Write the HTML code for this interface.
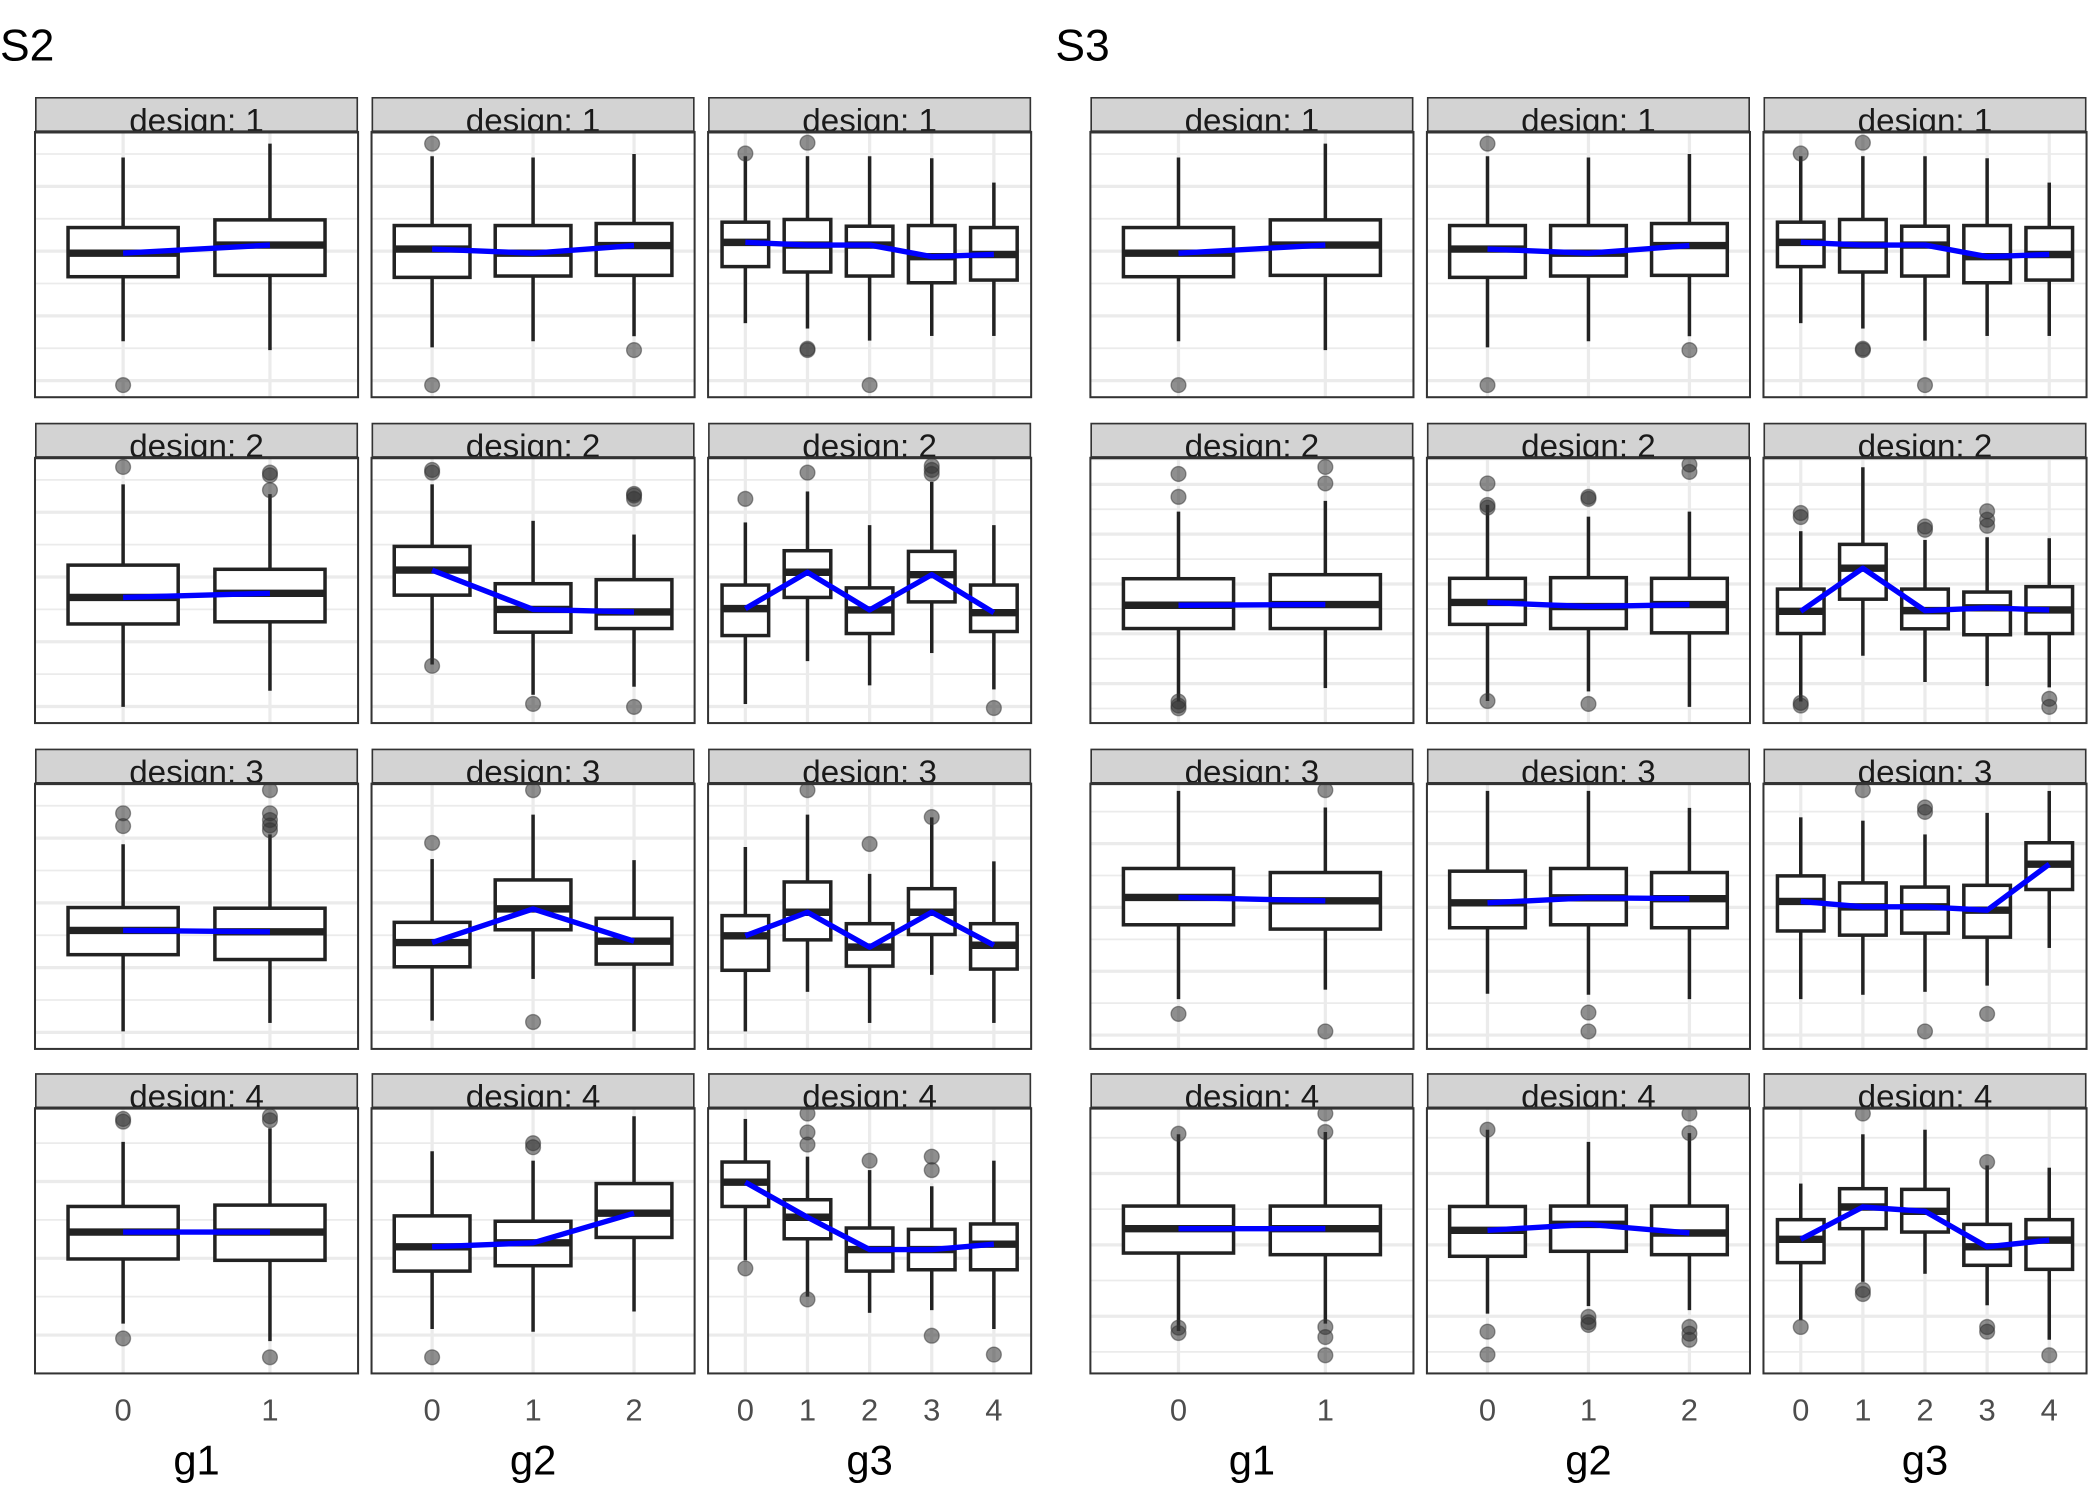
<!DOCTYPE html>
<html><head><meta charset="utf-8">
<style>html,body{margin:0;padding:0;background:#fff;}svg{display:block;}</style>
</head><body>
<svg id="s" xmlns="http://www.w3.org/2000/svg" width="2100" height="1500" viewBox="0 0 1560 1114" preserveAspectRatio="none" font-family="Liberation Sans, Arial, sans-serif">
<rect width="1560" height="1114" fill="#fff"/>
<text x="0" y="45" font-size="33" fill="#000">S2</text>
<text x="784" y="45" font-size="33" fill="#000">S3</text>
</svg>
<script>
var NS="http://www.w3.org/2000/svg",S=document.getElementById('s');
function el(t,a,p){var e=document.createElementNS(NS,t);for(var k in a)e.setAttribute(k,a[k]);(p||S).appendChild(e);return e;}
var colX=[26,276,526,810,1060,1310],W=240;
var stripT=[72,314,556,797],panT=[98,340,582,823],H=197;
var types=[2,3,5,2,3,5];
function xpos(c,i){var n=types[c];return colX[c]+(i+0.6)/(n+0.2)*W;}
function bw(c){var n=types[c];return 0.75/(n+0.2)*W;}
var grids={"0":[16.4,24.04],"1":[16.4,24.04],"2":[16.4,24.04],"3":[26,28.5]};
var grids3={"0":[16.4,24.04],"1":[1.2,18.5],"2":[20.8,23.7],"3":[22,26.5]};
var R1g1=[[169,205.5,188,117,253.4,[286]],[163.3,204.5,182,106.7,260,[]]];
var R1g2=[[167.5,206,185,116,258,[106.7,286]],[167.5,205,188,117,253.4,[]],[166,204.5,182.4,114.4,249.7,[260]]];
var R1g3=[[165,198,180,116,240,[114]],[163,202,182,116,244,[106,259,260]],[168,205,182,116,253,[286]],[167.5,210,190.6,117.5,249.5,[]],[169,208,189,135.6,249.5,[]]];
var D={
"0,0":R1g1,"0,1":R1g2,"0,2":R1g3,"0,3":R1g1,"0,4":R1g2,"0,5":R1g3,
"1,0":[[419.7,463.4,443.7,359.7,525,[346.8]],[422.8,461.8,440.6,367,513,[351,353,364]]],
"1,1":[[405.8,442,423.4,359.7,493.5,[349,351,494.5]],[433.5,469.5,452.6,386.8,516,[522.8]],[430.5,466.8,454.5,397,510,[366.8,368,370.5,525]]],
"1,2":[[434.5,472,452,388,522.8,[370.5]],[409,443.7,425,365,491,[351]],[436.6,470.5,453,390,509,[]],[409.5,447,426.8,358,485,[346,349,352]],[434.5,469,455,390,512,[525.8]]],
"1,3":[[429.8,466.8,449.5,380,521,[352,369,521,524,526]],[426.8,466.8,449,372,511,[346.8,359]]],
"1,4":[[429.5,463.7,447.4,375,520.6,[359,375,377,520.6]],[429,466.8,450.5,383.7,513.5,[369,370.5,522.8]],[429.5,470,449,380,525,[345,350.5]]],
"1,5":[[437.5,470.5,454,394.5,521,[381,384,522,524]],[404.3,445,422,347,487,[]],[437.5,467,453.5,401,506.5,[391,393.5]],[439.7,471.4,451.4,399,509.5,[379.7,386,390.5]],[435.7,470.5,453,399.7,510.5,[519,525]]],
"2,0":[[674,709,691,627,766,[604,613.5]],[674.5,712.6,692,619.7,759.7,[586.8,604,609,613,616.6]]],
"2,1":[[685,718,700,638,758,[626]],[653.5,690.5,675,605,727,[586.8,759]],[682,716,699,638.8,766,[]]],
"2,2":[[680,720.6,695,629,766,[]],[655,698,677.5,605,736.6,[586.8]],[686,717.5,703.4,649,759.7,[626.8]],[660,694,677.5,607,724,[606.8]],[686,719.7,702,639.7,759.7,[]]],
"2,3":[[645,686.8,666.5,587.4,742,[753]],[648,690,669,599.7,735,[586.8,766]]],
"2,4":[[647,689,670.5,587.4,738,[]],[645,686.8,666.8,587.4,738.8,[752,766]],[648,689,667.4,600,742,[]]],
"2,5":[[650.5,691.4,669.5,607,742,[]],[655.7,694.5,673.5,609.5,738.8,[586.8]],[658.8,693,673.5,619.7,736.6,[599.7,603,766]],[657.5,696,676,603.7,732,[753]],[625.9,660.6,641.8,587.4,704,[]]],
"3,0":[[896,935,915,848,983,[831,833,994]],[895,936,915,838,996,[829,832,1008]]],
"3,1":[[903,944,926,855,987,[1008]],[907,940,923,862,989,[849,852]],[879,919,901,829,974,[]]],
"3,2":[[863,896,878,831,936,[942]],[891,920,904,859,963,[827,841,850,965]],[912,944,928,869,975,[862]],[913,943,928,881,973,[859,869,992]],[909,943,924,862,987,[1006]]],
"3,3":[[895.7,930.6,912.5,842.4,988.5,[842,986,990]],[895.7,931.8,912.5,840.7,983,[827,840.7,985.5,993,1006.5]]],
"3,4":[[896,933,913.7,839,975.6,[839,989,1006]],[895.7,929.3,909.3,848,970,[978,982,984]],[895.7,931.8,915.7,841.5,973,[827,841.5,985.5,990.5,995]]],
"3,5":[[905.8,937.7,920.4,879,980.5,[985.5]],[882.8,912.5,896.4,842.4,952,[827,958,961]],[883.3,915,899.6,839,946,[]],[909.3,939.7,926,865.5,969.4,[863,985.5,989]],[905.8,942.7,921,867.2,995,[1006.5]]]
};
var labs=["g1","g2","g3","g1","g2","g3"];
for(var r=0;r<4;r++)for(var c=0;c<6;c++){
 var x0=colX[c],py=panT[r],n=types[c];
 var g=(c<3?grids:grids3)[r];
 for(var k=0;k<12;k++){var y=py+g[0]+k*g[1];if(y>py+H-1)break;
  el('line',{x1:x0,x2:x0+W,y1:y,y2:y,stroke:'#ebebeb','stroke-width':(k%2?2.4:1.3)});}
 for(var i=0;i<n;i++){var xx=xpos(c,i);el('line',{x1:xx,x2:xx,y1:py,y2:py+H,stroke:'#ebebeb','stroke-width':2.4});}
 var B=D[r+","+c],w=bw(c),pts=[];
 for(var i=0;i<n;i++){var b=B[i],xx=xpos(c,i);
  el('line',{x1:xx,x2:xx,y1:b[3],y2:b[0],stroke:'#222','stroke-width':2.6});
  el('line',{x1:xx,x2:xx,y1:b[1],y2:b[4],stroke:'#222','stroke-width':2.6});
  el('rect',{x:xx-w/2,y:b[0],width:w,height:b[1]-b[0],fill:'#fff',stroke:'#222','stroke-width':2.6});
  el('line',{x1:xx-w/2,x2:xx+w/2,y1:b[2],y2:b[2],stroke:'#222','stroke-width':5.5});
  b[5].forEach(function(o){el('circle',{cx:xx,cy:o,r:5.5,fill:'#333','fill-opacity':0.55,stroke:'#333','stroke-opacity':0.5,'stroke-width':1});});
  pts.push(xx+","+b[2]);}
 el('polyline',{points:pts.join(" "),fill:'none',stroke:'#0000ff','stroke-width':4,'stroke-linejoin':'round'});
 el('rect',{x:x0,y:py,width:W,height:H,fill:'none',stroke:'#333','stroke-width':1.5});
 var sv=el('svg',{x:x0,y:stripT[r],width:W,height:panT[r]-stripT[r],overflow:'hidden'});
 el('rect',{x:0,y:0,width:W,height:26,fill:'#d3d3d3',stroke:'#333','stroke-width':2.4},sv);
 var t=el('text',{x:W/2,y:25.5,'font-size':24,'text-anchor':'middle',fill:'#1a1a1a',textLength:100,lengthAdjust:'spacingAndGlyphs'},sv);t.textContent="design: "+(r+1);
 el('line',{x1:x0,x2:x0+W,y1:py,y2:py,stroke:'#333','stroke-width':2.2});
}
for(var c=0;c<6;c++){
 for(var i=0;i<types[c];i++){var t=el('text',{x:xpos(c,i),y:1055,'font-size':23,'text-anchor':'middle',fill:'#4d4d4d'});t.textContent=i;}
 var t=el('text',{x:colX[c]+W/2,y:1095,'font-size':31,'text-anchor':'middle',fill:'#000'});t.textContent=labs[c];
}
</script>
</body></html>
